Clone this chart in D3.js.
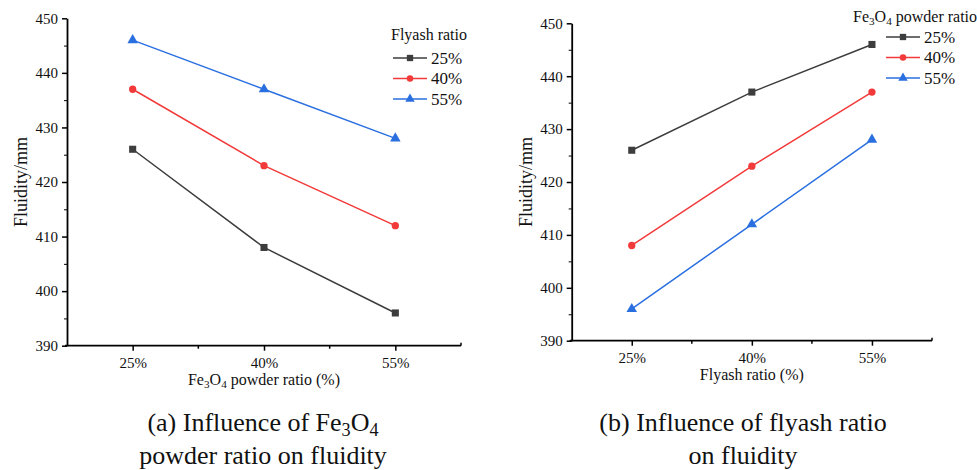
<!DOCTYPE html>
<html>
<head>
<meta charset="utf-8">
<script src="https://cdn.jsdelivr.net/npm/d3@7"></script>
<style>
  body { margin: 0; background: #fff; }
  text { font-family: "Liberation Serif", Tinos, "Times New Roman", Times, "DejaVu Serif", serif; fill: #111; }
</style>
</head>
<body>
<script>
// category ticks (both panels)
const ratioLabels = ['25%', '40%', '55%'];
const seriesLabels = ['25%', '40%', '55%'];
const yTicks = [390, 400, 410, 420, 430, 440, 450];

// (a) x = Fe3O4 powder ratio, series = flyash ratio
const aFly25 = [426, 408, 396];
const aFly40 = [437, 423, 412];
const aFly55 = [446, 437, 428];

// (b) x = flyash ratio, series = Fe3O4 powder ratio
const bFe25 = [426, 437, 446];
const bFe40 = [408, 423, 437];
const bFe55 = [396, 412, 428];

const colors = ['#3d3d3d', '#f23a3a', '#2a6fe0'];
const shapes = [d3.symbolSquare, d3.symbolCircle, d3.symbolTriangle];
const sizes = [50, 42, 48];

const W = 977, H = 470;
const svg = d3.select('body').append('svg').attr('width', W).attr('height', H);

// text with subscript parts: [['Fe'],['3',true],...]
function richText(sel, parts) {
    parts.forEach((p, i) => {
        const t = sel.append('tspan').text(p[0]);
        const prevSub = i > 0 && parts[i - 1][1];
        if (p[1]) t.attr('dy', '0.25em').attr('font-size', '70%');
        else if (prevSub) t.attr('dy', '-0.175em');
    });
    return sel;
}

function drawPanel(o) {
    const g = svg.append('g');
    const x = d3.scalePoint().domain(ratioLabels).range([o.left, o.right]).padding(0.5);
    const y = d3.scaleLinear().domain([390, 450]).range([o.bottom, o.top]);

    // y axis
    const yAxis = d3.axisLeft(y).tickValues(yTicks).tickSize(5).tickSizeOuter(0).tickPadding(4);
    const yAxisG = g.append('g').attr('transform', `translate(${o.left},0)`).call(yAxis);
    const yMinor = d3.axisLeft(y).tickValues(d3.range(395, 450, 10)).tickSize(3).tickSizeOuter(0).tickFormat('');
    g.append('g').attr('transform', `translate(${o.left},0)`).call(yMinor).select('.domain').remove();

    // x axis
    const xAxis = d3.axisBottom(x).tickSize(5).tickSizeOuter(0).tickPadding(7);
    const xAxisG = g.append('g').attr('transform', `translate(0,${o.bottom})`).call(xAxis);
    const mids = d3.pairs(ratioLabels).map(p => (x(p[0]) + x(p[1])) / 2);
    g.append('g').selectAll('line').data(mids).enter().append('line')
        .attr('x1', d => d).attr('x2', d => d)
        .attr('y1', o.bottom).attr('y2', o.bottom + 3)
        .attr('stroke', '#000').attr('stroke-width', 1.5);
    g.append('line').attr('x1', o.right).attr('x2', o.right)
        .attr('y1', o.bottom).attr('y2', o.bottom - 3)
        .attr('stroke', '#000').attr('stroke-width', 1.5);

    [yAxisG, xAxisG].forEach(a => {
        a.attr('font-family', null);
        a.selectAll('.domain').attr('stroke', '#000').attr('stroke-width', 1.8);
        a.selectAll('.tick line').attr('stroke', '#000').attr('stroke-width', 1.5);
        a.selectAll('.tick text').attr('font-size', 15).attr('fill', '#111');
    });
    xAxisG.select('.domain').attr('d', `M${o.left - 2},0H${o.right}`);

    // axis titles
    richText(g.append('text').attr('text-anchor', 'middle')
        .attr('x', (o.left + o.right) / 2).attr('y', o.bottom + 39)
        .attr('font-size', 16), o.xTitle);
    g.append('text').text('Fluidity/mm').attr('text-anchor', 'middle')
        .attr('transform', `translate(${o.left - 40},${(o.top + o.bottom) / 2}) rotate(-90)`)
        .attr('font-size', 18);

    // lines + markers
    const line = d3.line().x((d, i) => x(ratioLabels[i])).y(d => y(d));
    o.series.forEach((vals, k) => {
        g.append('path').attr('d', line(vals)).attr('fill', 'none')
            .attr('stroke', colors[k]).attr('stroke-width', 1.5);
        g.selectAll(null).data(vals).enter().append('path')
            .attr('d', d3.symbol().type(shapes[k]).size(sizes[k]))
            .attr('transform', (d, i) => `translate(${x(ratioLabels[i])},${y(d)})`)
            .attr('fill', colors[k]);
    });

    // legend
    const lg = g.append('g');
    richText(lg.append('text').attr('x', o.legTitleX).attr('y', o.legTitleY).attr('font-size', 16), o.legTitle);
    seriesLabels.forEach((s, k) => {
        const cy = o.legY + k * 20.5;
        lg.append('line').attr('x1', o.legX).attr('x2', o.legX + 34)
            .attr('y1', cy).attr('y2', cy).attr('stroke', colors[k]).attr('stroke-width', 1.5);
        lg.append('path').attr('d', d3.symbol().type(shapes[k]).size(sizes[k] * 0.8))
            .attr('transform', `translate(${o.legX + 17},${cy})`).attr('fill', colors[k]);
        lg.append('text').text(s).attr('x', o.legX + 38).attr('y', cy + 5.5).attr('font-size', 17);
    });

    // caption
    o.caption.forEach((parts, i) => {
        richText(g.append('text').attr('text-anchor', 'middle')
            .attr('x', o.capX).attr('y', 431 + i * 33).attr('font-size', 26), parts);
    });
}

drawPanel({
    left: 67, right: 461, top: 18.3, bottom: 345.7,
    xTitle: [['Fe'], ['3', true], ['O'], ['4', true], [' powder ratio (%)']],
    series: [aFly25, aFly40, aFly55],
    legTitle: [['Flyash ratio']], legTitleX: 391, legTitleY: 40,
    legX: 393, legY: 58,
    capX: 263,
    caption: [[['(a) Influence of Fe'], ['3', true], ['O'], ['4', true]], [['powder ratio on fluidity']]]
});

drawPanel({
    left: 571.7, right: 932, top: 23.3, bottom: 340.7,
    xTitle: [['Flyash ratio (%)']],
    series: [bFe25, bFe40, bFe55],
    legTitle: [['Fe'], ['3', true], ['O'], ['4', true], [' powder ratio']], legTitleX: 853, legTitleY: 22,
    legX: 886, legY: 37,
    capX: 743,
    caption: [[['(b) Influence of flyash ratio']], [['on fluidity']]]
});
</script>
</body>
</html>
